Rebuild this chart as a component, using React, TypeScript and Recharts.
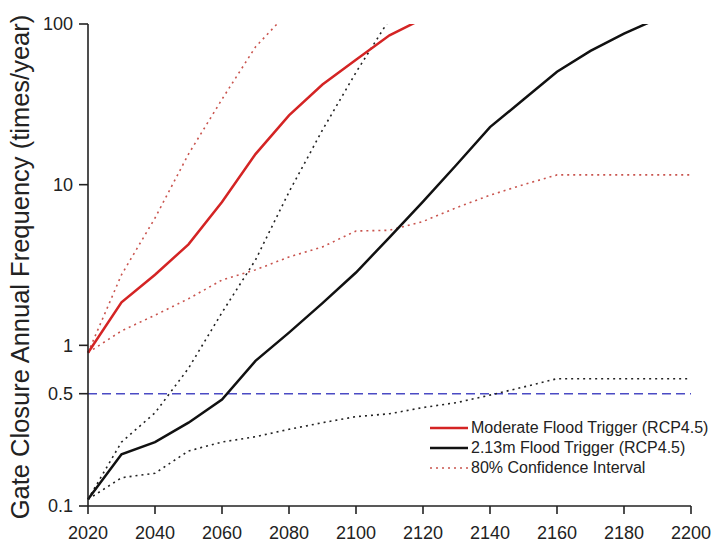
import React from "react";
import { LineChart, Line, XAxis, YAxis, ReferenceLine } from "recharts";

const years = [
  2020, 2030, 2040, 2050, 2060, 2070, 2080, 2090, 2100, 2110, 2120, 2130,
  2140, 2150, 2160, 2170, 2180, 2190, 2200,
];

// Moderate flood trigger (RCP4.5) and its 80% band
const moderate = [0.9, 1.85, 2.75, 4.25, 7.8, 15.5, 27, 42, 60, 85, 108];
const moderateHigh = [0.9, 2.75, 6.2, 15.5, 34, 72, 120];
const moderateLow = [
  0.9, 1.23, 1.54, 1.95, 2.55, 2.95, 3.55, 4.1, 5.15, 5.2, 5.9, 7.2, 8.6, 10,
  11.5, 11.5, 11.5, 11.5, 11.5,
];

// 2.13m flood trigger (RCP4.5) and its 80% band
const trigger213 = [
  0.11, 0.21, 0.25, 0.33, 0.46, 0.8, 1.2, 1.83, 2.84, 4.7, 7.85, 13.3, 22.8,
  33.9, 50.5, 68, 87, 108,
];
const trigger213High = [0.11, 0.25, 0.38, 0.72, 1.6, 3.4, 9.0, 21.9, 50, 107];
const trigger213Low = [
  0.11, 0.15, 0.16, 0.22, 0.25, 0.27, 0.3, 0.33, 0.36, 0.375, 0.41, 0.44,
  0.49, 0.55, 0.62, 0.62, 0.62, 0.62, 0.62,
];

const xTicks = [2020, 2040, 2060, 2080, 2100, 2120, 2140, 2160, 2180, 2200];
const yTicks = [0.1, 0.5, 1, 10, 100];
const threshold = 0.5;

const data = years.map((year, i) => ({
  year,
  moderate: moderate[i] ?? null,
  moderateHigh: moderateHigh[i] ?? null,
  moderateLow: moderateLow[i] ?? null,
  trigger213: trigger213[i] ?? null,
  trigger213High: trigger213High[i] ?? null,
  trigger213Low: trigger213Low[i] ?? null,
}));

const RED = "#d42424";
const RED_DOT = "#c9544e";
const BLACK = "#111";
const FONT = "Arial, 'Liberation Sans', sans-serif";

const legendItems = [
  { label: "Moderate Flood Trigger (RCP4.5)", color: RED, dash: undefined, width: 2.5 },
  { label: "2.13m Flood Trigger (RCP4.5)", color: BLACK, dash: undefined, width: 2.5 },
  { label: "80% Confidence Interval", color: RED_DOT, dash: "2 4", width: 1.6 },
];

function LegendBox() {
  return (
    <div
      style={{
        position: "absolute",
        left: 430,
        top: 418,
        fontFamily: FONT,
        fontSize: 16,
        color: "#222",
      }}
    >
      {legendItems.map((item) => (
        <div
          key={item.label}
          style={{ display: "flex", alignItems: "center", height: 20 }}
        >
          <svg width={38} height={10} style={{ marginRight: 3 }}>
            <line
              x1={0}
              y1={5}
              x2={38}
              y2={5}
              stroke={item.color}
              strokeWidth={item.width}
              strokeDasharray={item.dash}
            />
          </svg>
          <span style={{ whiteSpace: "nowrap" }}>{item.label}</span>
        </div>
      ))}
    </div>
  );
}

const axisTick = { fill: "#222", fontSize: 18, fontFamily: FONT };

export default function App() {
  return (
    <div
      style={{
        position: "absolute",
        left: 0,
        top: 0,
        width: 721,
        height: 547,
        background: "#fff",
      }}
    >
      <LineChart
        width={721}
        height={547}
        data={data}
        margin={{ top: 24, right: 30, bottom: 11, left: 28 }}
      >
        <XAxis
          dataKey="year"
          type="number"
          domain={[2020, 2200]}
          ticks={xTicks}
          tick={axisTick}
          tickSize={8}
          tickMargin={12}
          height={30}
          stroke="#222"
          strokeWidth={1.6}
        />
        <YAxis
          scale="log"
          type="number"
          domain={[0.1, 100]}
          ticks={yTicks}
          allowDataOverflow
          tick={axisTick}
          tickSize={9}
          tickMargin={6}
          width={60}
          stroke="#222"
          strokeWidth={1.6}
          tickFormatter={(v: number) => String(v)}
          label={{
            content: () => (
              <text
                x={29}
                y={267}
                transform="rotate(-90 29 267)"
                textAnchor="middle"
                fontSize={25.5}
                fontFamily={FONT}
                fill="#222"
              >
                Gate Closure Annual Frequency (times/year)
              </text>
            ),
          }}
        />
        <ReferenceLine
          y={threshold}
          stroke="#4b4bc4"
          strokeWidth={1.5}
          strokeDasharray="9 5"
        />
        <Line
          dataKey="moderateHigh"
          stroke={RED_DOT}
          strokeWidth={1.6}
          strokeDasharray="2 4"
          dot={false}
          type="linear"
          isAnimationActive={false}
        />
        <Line
          dataKey="moderateLow"
          stroke={RED_DOT}
          strokeWidth={1.6}
          strokeDasharray="2 4"
          dot={false}
          type="linear"
          isAnimationActive={false}
        />
        <Line
          dataKey="trigger213High"
          stroke="#222"
          strokeWidth={1.6}
          strokeDasharray="2 4"
          dot={false}
          type="linear"
          isAnimationActive={false}
        />
        <Line
          dataKey="trigger213Low"
          stroke="#222"
          strokeWidth={1.6}
          strokeDasharray="2 4"
          dot={false}
          type="linear"
          isAnimationActive={false}
        />
        <Line
          dataKey="moderate"
          stroke={RED}
          strokeWidth={2.5}
          dot={false}
          type="linear"
          isAnimationActive={false}
        />
        <Line
          dataKey="trigger213"
          stroke={BLACK}
          strokeWidth={2.5}
          dot={false}
          type="linear"
          isAnimationActive={false}
        />
      </LineChart>
      <LegendBox />
    </div>
  );
}
